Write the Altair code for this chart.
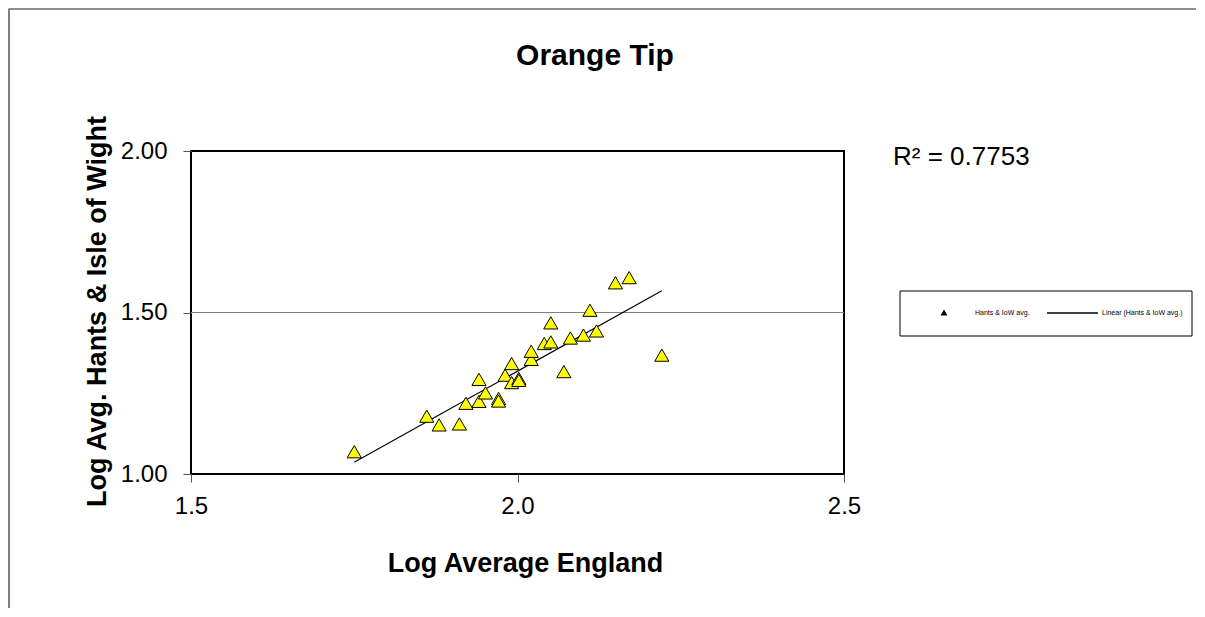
import altair as alt
import pandas as pd

# Values
eng_log = [1.750, 1.861, 1.880, 1.911, 1.921, 1.941, 1.941, 1.951, 1.971, 1.971,
           1.981, 1.991, 1.991, 2.002, 2.002, 2.021, 2.021, 2.041, 2.051, 2.051,
           2.071, 2.081, 2.101, 2.111, 2.121, 2.150, 2.171, 2.221]
hants_log = [1.069, 1.179, 1.152, 1.155, 1.219, 1.225, 1.293, 1.251, 1.234, 1.226,
             1.306, 1.342, 1.283, 1.296, 1.290, 1.355, 1.380, 1.404, 1.409, 1.468,
             1.317, 1.421, 1.430, 1.507, 1.443, 1.592, 1.608, 1.368]
x_ticks = [1.5, 2.0, 2.5]
y_ticks = [1.0, 1.5, 2.0]
gridlines = [1.5]
title_text = "Orange Tip"
x_title = "Log Average England"
y_title = "Log Avg. Hants & Isle of Wight"
r2_label = "R² = 0.7753"
legend_labels = ["Hants & IoW avg.", "Linear (Hants & IoW avg.)"]

FONT = "Liberation Sans"
W, H = 653, 323

df = pd.DataFrame({"x": eng_log, "y": hants_log})
one = pd.DataFrame({"k": [0]})

xs = alt.Scale(domain=[1.5, 2.5], nice=False, zero=False)
ys = alt.Scale(domain=[1.0, 2.0], nice=False, zero=False)

x_axis = alt.Axis(values=x_ticks, format=".1f", title=x_title, grid=False,
                  domain=False, tickSize=8, tickColor="#555555", labelPadding=12,
                  labelFlush=False, labelOverlap=False,
                  labelFontSize=24, labelFont=FONT, labelColor="black",
                  titleFont=FONT, titleFontSize=27, titleFontWeight="bold",
                  titleColor="black", titleX=334, titleY=89,
                  titleBaseline="middle", titleAlign="center")
y_axis = alt.Axis(values=y_ticks, format=".2f", title=y_title, grid=False,
                  domain=False, tickSize=8, tickColor="#555555", labelPadding=16,
                  labelFlush=False, labelOverlap=False,
                  labelFontSize=24, labelFont=FONT, labelColor="black",
                  titleFont=FONT, titleFontSize=27, titleFontWeight="bold",
                  titleColor="black", titleX=-94, titleY=160, titleAngle=270,
                  titleBaseline="middle", titleAlign="center")

frame_top = alt.Chart(one).mark_rule(color="#6a6a6a", strokeWidth=1.5).encode(
    x=alt.value(-182.5), x2=alt.value(1100), y=alt.value(-142))
frame_left = alt.Chart(one).mark_rule(color="#808080", strokeWidth=2).encode(
    x=alt.value(-182), y=alt.value(-142), y2=alt.value(600))

grid = alt.Chart(pd.DataFrame({"y": gridlines})).mark_rule(
    color="#808080", strokeWidth=1.2).encode(y=alt.Y("y:Q", scale=ys, axis=y_axis))

points = alt.Chart(df).mark_point(
    shape="triangle-up", filled=True, fill="#FFFF00", stroke="black",
    strokeWidth=1, size=200, opacity=1).encode(
    x=alt.X("x:Q", scale=xs, axis=x_axis),
    y=alt.Y("y:Q", scale=ys, axis=y_axis))

trend = alt.Chart(df).transform_regression(
    "x", "y", extent=[1.75, 2.221]).mark_line(color="black", strokeWidth=1.2).encode(
    x=alt.X("x:Q", scale=xs, axis=x_axis), y=alt.Y("y:Q", scale=ys, axis=y_axis))

title = alt.Chart(one).mark_text(align="center", baseline="alphabetic", fontSize=30,
                                 fontWeight="bold", font=FONT, color="black",
                                 text=title_text).encode(
    x=alt.value(404), y=alt.value(-86))

r2 = alt.Chart(one).mark_text(align="left", baseline="middle", fontSize=26,
                              font=FONT, color="black", text=r2_label).encode(
    x=alt.value(702), y=alt.value(6))

leg_box = alt.Chart(one).mark_rect(fill="white", stroke="black", strokeWidth=1).encode(
    x=alt.value(709), x2=alt.value(1001), y=alt.value(140), y2=alt.value(185))
leg_sym = alt.Chart(one).mark_point(shape="triangle-up", filled=True, fill="black",
                                    stroke="black", size=12, opacity=1).encode(
    x=alt.value(753), y=alt.value(162))
leg_t1 = alt.Chart(one).mark_text(align="left", baseline="middle", fontSize=7,
                                  font=FONT, color="black", text=legend_labels[0]).encode(
    x=alt.value(784), y=alt.value(162))
leg_line = alt.Chart(one).mark_rule(color="black", strokeWidth=1.3).encode(
    x=alt.value(856), x2=alt.value(907), y=alt.value(162))
leg_t2 = alt.Chart(one).mark_text(align="left", baseline="middle", fontSize=7,
                                  font=FONT, color="black", text=legend_labels[1]).encode(
    x=alt.value(911), y=alt.value(162))

chart = alt.layer(frame_top, frame_left, title, grid, trend, points, r2, leg_box,
                  leg_sym, leg_t1, leg_line, leg_t2).properties(
    width=W, height=H,
    autosize=alt.AutoSizeParams(type="none"),
    padding={"left": 183, "top": 143, "right": 352, "bottom": 134},
    background="white",
).configure_view(stroke="black", strokeWidth=2)

chart.save("out.html", embed_options={"renderer": "svg", "actions": False})
